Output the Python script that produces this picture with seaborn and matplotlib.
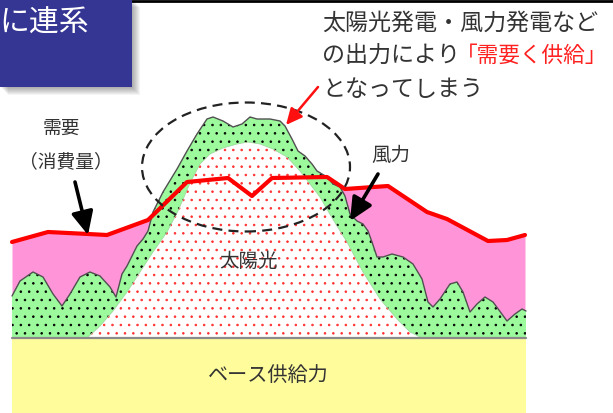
import numpy as np
import matplotlib
matplotlib.use("Agg")
import matplotlib.pyplot as plt
from matplotlib.patches import Ellipse, Rectangle
import seaborn as sns

# ---------------- data (levels in arbitrary power units, x = time units) ----------------
base_supply = 75

demand_x = [12, 48, 88, 107, 148, 187, 228, 252, 272, 327, 345, 388, 427, 447, 488, 507, 525]
demand = [171, 181, 179, 178, 193, 231, 235, 217, 235, 236, 224, 227, 201, 194, 172, 173, 178]

wind_x = [12, 20, 33, 43, 53, 62, 70, 80, 90, 100, 110, 116, 122, 127, 133, 137, 143, 148,
          153, 163, 177, 187, 197, 207, 213, 223, 233, 242, 250, 257, 270, 280, 285, 292,
          298, 305, 312, 317, 327, 333, 340, 345, 350, 357, 363, 368, 372, 377, 383, 392,
          403, 413, 422, 428, 433, 440, 450, 457, 463, 470, 477, 485, 493, 507, 515, 522, 526]
wind_py = [297, 282, 273, 278, 295, 307, 295, 278, 273, 277, 288, 298, 275, 267, 255, 247, 240, 232,
           213, 193, 170, 152, 135, 120, 118, 122, 128, 125, 118, 120, 120, 122, 127, 140,
           152, 157, 165, 172, 178, 185, 188, 197, 215, 222, 225, 232, 243, 258, 258, 255,
           258, 265, 280, 303, 308, 300, 285, 283, 293, 313, 305, 298, 303, 322, 315, 310, 312]
wind_top = [414 - v for v in wind_py]

solar_x = [88, 100, 113, 127, 140, 153, 167, 178, 190, 200, 210, 223, 237, 248, 260, 273,
           287, 300, 310, 320, 328, 337, 347, 363, 380, 397, 410, 420]
solar_py = [338, 327, 312, 293, 273, 253, 233, 212, 184, 165, 155, 149, 145, 143, 145, 150,
            158, 172, 185, 198, 212, 227, 243, 273, 300, 320, 333, 338]
solar_top = [414 - v for v in solar_py]

# ---------------- style ----------------
sns.set_theme(style="white")
plt.rcParams["font.family"] = ["Noto Sans CJK JP", "DejaVu Sans"]
plt.rcParams["hatch.linewidth"] = 0.6

fig = plt.figure(figsize=(6.13, 4.14), dpi=100)
ax = fig.add_axes([0, 0, 1, 1])
ax.set_xlim(0, 613)
ax.set_ylim(0, 414)
ax.axis("off")

x0, x1 = demand_x[0], demand_x[-1]

# base supply
ax.fill_between([x0, x1 + 1], 0, base_supply, color="#FFFC9C", lw=0, zorder=1)
# demand area (pink)
ax.fill_between(demand_x, base_supply, demand, color="#FF94D8", lw=0, zorder=2)
# wind (green, black dots)
ax.fill_between(wind_x, base_supply, wind_top, facecolor="#9CFA9C", edgecolor="black",
                hatch="..", lw=0, zorder=3)
ax.plot(wind_x, wind_top, color="#505050", lw=1.0, zorder=4)
# solar (white, red dots)
ax.fill_between(solar_x, base_supply, solar_top, facecolor="white", edgecolor="#FF3030",
                hatch="..", lw=0, zorder=5)
ax.plot(solar_x, solar_top, color="#A0D8A0", lw=0.6, zorder=5)
# baseline
ax.plot([x0, x1 + 1], [base_supply, base_supply], color="#8A8A8A", lw=1.6, zorder=6)

# demand line
sns.lineplot(x=demand_x, y=demand, color="#FF0000", lw=3.0, sort=False, ax=ax, zorder=7,
             legend=False)

# dashed ellipse
ax.add_patch(Ellipse((246, 414 - 168), 208, 129, fill=False, ec="#222222", lw=1.6,
                     ls=(0, (4.5, 2.8)), zorder=8))

# arrows
ax.annotate("", xy=(286, 414 - 126), xytext=(318, 414 - 88),
            arrowprops=dict(arrowstyle="-|>,head_length=0.7,head_width=0.33", color="#FF1010",
                            lw=1.8, mutation_scale=14, shrinkA=0, shrinkB=0), zorder=9)
ax.annotate("", xy=(88, 414 - 236), xytext=(75, 414 - 183),
            arrowprops=dict(arrowstyle="-|>,head_length=0.7,head_width=0.33", color="black",
                            lw=2.6, mutation_scale=20, shrinkA=0, shrinkB=0), zorder=9)
ax.annotate("", xy=(350, 414 - 222), xytext=(378, 414 - 175),
            arrowprops=dict(arrowstyle="-|>,head_length=0.7,head_width=0.33", color="black",
                            lw=2.6, mutation_scale=20, shrinkA=0, shrinkB=0), zorder=9)

txt = "#333333"
# main annotation
ax.text(322, 414 - 23, "太陽光発電・風力発電など", fontsize=16.6, color=txt, va="center",
        ha="left", zorder=10)
t2 = ax.text(322, 414 - 56, "の出力により", fontsize=16.6, color=txt, va="center",
             ha="left", zorder=10)
ax.annotate("「需要く供給」", xy=(1, 0.5), xycoords=t2, xytext=(-3, 0),
            textcoords="offset points", va="center", ha="left",
            fontsize=15.6, color="#FF2020", zorder=10)
ax.text(322, 414 - 90, "となってしまう", fontsize=16.6, color=txt, va="center",
        ha="left", zorder=10)

# labels
ax.text(61, 414 - 128, "需要", fontsize=13.5, color=txt, ha="center", va="center", zorder=10)
ax.text(66, 414 - 162, "（消費量）", fontsize=13.5, color=txt, ha="center", va="center", zorder=10)
ax.text(391, 414 - 155, "風力", fontsize=14, color=txt, ha="center", va="center", zorder=10)
ax.text(249, 414 - 261, "太陽光", fontsize=14, color=txt, ha="center", va="center", zorder=10)
ax.text(268, 414 - 375, "ベース供給力", fontsize=14.5, color=txt, ha="center", va="center",
        zorder=10)

# title box at top-left with shadow
for i in range(1, 9):
    ax.add_patch(Rectangle((i, 414 - 88 - i), 132, 88, color="black", alpha=0.045, lw=0,
                           zorder=11))
ax.add_patch(Rectangle((0, 414 - 88), 132, 88, color="#353593", lw=0, zorder=12))
ax.text(-1, 414 - 23, "に連系", fontsize=21.5, color="white", ha="left", va="center",
        zorder=13)
ax.plot([132, 613], [412, 412], color="black", lw=2.0, zorder=10)

fig.savefig("out.png", dpi=100)
